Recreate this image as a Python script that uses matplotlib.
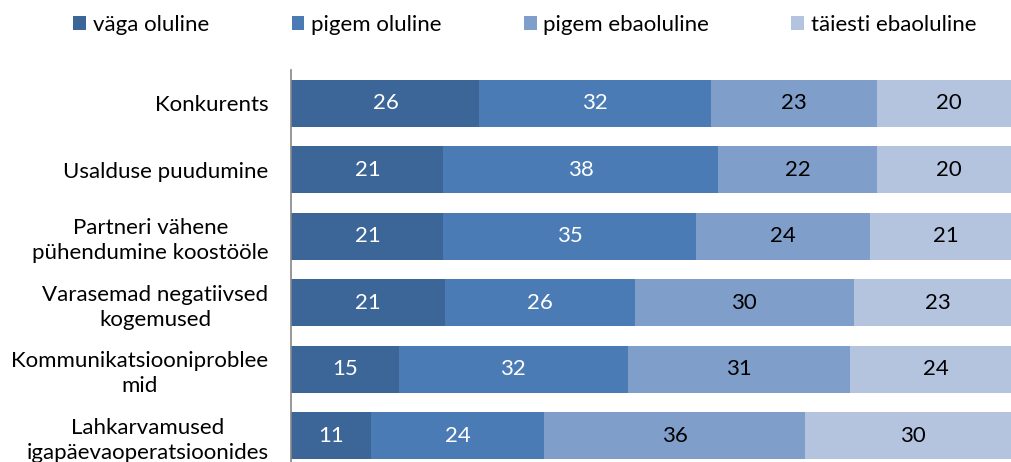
import matplotlib
matplotlib.use("Agg")
import matplotlib.pyplot as plt
import numpy as np

plt.rcParams["font.family"] = ["Lato", "DejaVu Sans"]

CATEGORIES = ["Konkurents", "Usalduse puudumine",
              "Partneri vähene\npühendumine koostööle",
              "Varasemad negatiivsed\nkogemused",
              "Kommunikatsiooniproblee\nmid",
              "Lahkarvamused\nigapäevaoperatsioonides"]
SERIES = ["väga oluline", "pigem oluline", "pigem ebaoluline", "täiesti ebaoluline"]
VAGA_OLULINE = [26, 21, 21, 21, 15, 11]
PIGEM_OLULINE = [32, 38, 35, 26, 32, 24]
PIGEM_EBAOLULINE = [23, 22, 24, 30, 31, 36]
TAIESTI_EBAOLULINE = [20, 20, 21, 23, 24, 30]

COLORS = ["#3C6698", "#4A7BB5", "#7F9FCA", "#B4C4DF"]
TEXT_COLORS = ["white", "white", "black", "black"]
FS = 16

W, H = 1012, 462
fig = plt.figure(figsize=(W / 100, H / 100), dpi=100)
ax = fig.add_axes([291.5 / W, (H - 469) / H, 730 / W, 399 / H])

data = np.array([VAGA_OLULINE, PIGEM_OLULINE, PIGEM_EBAOLULINE, TAIESTI_EBAOLULINE],
                dtype=float)
pct = data / data.sum(axis=0) * 100   # 100% stacked, like the source
y = np.arange(len(CATEGORIES))
left = np.zeros(len(CATEGORIES))
for k, name in enumerate(SERIES):
    bars = ax.barh(y, pct[k], left=left, height=0.71, color=COLORS[k],
                   label=name, linewidth=0)
    for i, b in enumerate(bars):
        ax.text(left[i] + pct[k][i] / 2, y[i], f"{int(data[k][i])}",
                ha="center", va="center", color=TEXT_COLORS[k], fontsize=FS)
    left += pct[k]

ax.set_xlim(0, 100)
ax.set_ylim(len(CATEGORIES) - 0.5, -0.5)
ax.set_yticks(y)
ax.set_yticklabels(CATEGORIES, fontsize=FS)
for lbl in ax.get_yticklabels():
    lbl.set_multialignment("center")
    lbl.set_linespacing(1.32)
ax.tick_params(axis="y", length=0, pad=16.5)
ax.xaxis.set_visible(False)
for s in ("top", "right", "bottom"):
    ax.spines[s].set_visible(False)
ax.spines["left"].set_color("#868686")
ax.spines["left"].set_linewidth(1.2)

fig.legend(loc="center", bbox_to_anchor=(525 / W, 1 - 25 / H), ncol=4,
           frameon=False, fontsize=FS, handlelength=0.58, handleheight=0.58,
           handletextpad=0.3, columnspacing=3.7, borderaxespad=0)

fig.savefig("out.png", dpi=100)
